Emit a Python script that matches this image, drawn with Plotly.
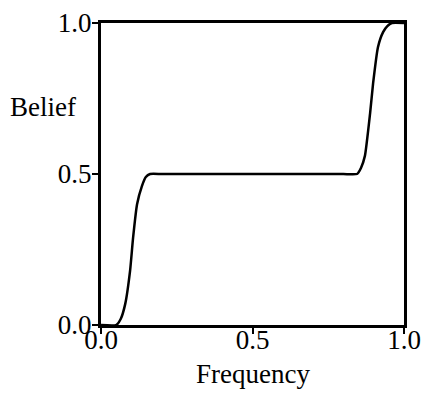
import plotly.graph_objects as go

freq = [0.0, 0.05, 0.065, 0.08, 0.096, 0.106, 0.119, 0.135, 0.148, 0.162, 0.2, 0.3, 0.5, 0.7, 0.8, 0.845, 0.858, 0.871, 0.888, 0.898, 0.914, 0.931, 0.945, 0.96, 1.0]
belief = [0.0, 0.0, 0.02, 0.07, 0.18, 0.29, 0.40, 0.46, 0.49, 0.5, 0.5, 0.5, 0.5, 0.5, 0.5, 0.5, 0.52, 0.56, 0.70, 0.80, 0.92, 0.97, 0.99, 1.0, 1.0]
tick_vals = [0.0, 0.5, 1.0]
tick_text = ["0.0", "0.5", "1.0"]

font = dict(family="Liberation Serif, Times New Roman, serif", size=27, color="black")

fig = go.Figure()
fig.add_trace(go.Scatter(x=freq, y=belief, mode="lines",
                         line=dict(color="black", width=2.5, shape="spline", smoothing=0.5),
                         showlegend=False, hoverinfo="skip"))

axis_common = dict(range=[0, 1], showgrid=False, zeroline=False, showline=True,
                   linecolor="black", linewidth=3, mirror=True, automargin=False,
                   ticks="outside", ticklen=6, tickwidth=2, tickcolor="black",
                   tickvals=tick_vals, ticktext=tick_text, tickfont=font)

fig.update_xaxes(**axis_common, ticklabelstandoff=-17)
fig.update_yaxes(**axis_common, ticklabelstandoff=-5)

fig.add_annotation(text="Belief", x=-0.19, y=0.722, xref="paper", yref="paper",
                   showarrow=False, font=font, xanchor="center", yanchor="middle")
fig.add_annotation(text="Frequency", x=0.5, y=-0.163, xref="paper", yref="paper",
                   showarrow=False, font=font, xanchor="center", yanchor="middle")

fig.update_layout(width=425, height=395, margin=dict(l=101, r=21, t=23, b=70),
                  plot_bgcolor="white", paper_bgcolor="white", font=font)

fig.write_html("out.html", config={"displayModeBar": False},
               post_script="document.body.style.margin='0';document.body.style.overflow='hidden';")
